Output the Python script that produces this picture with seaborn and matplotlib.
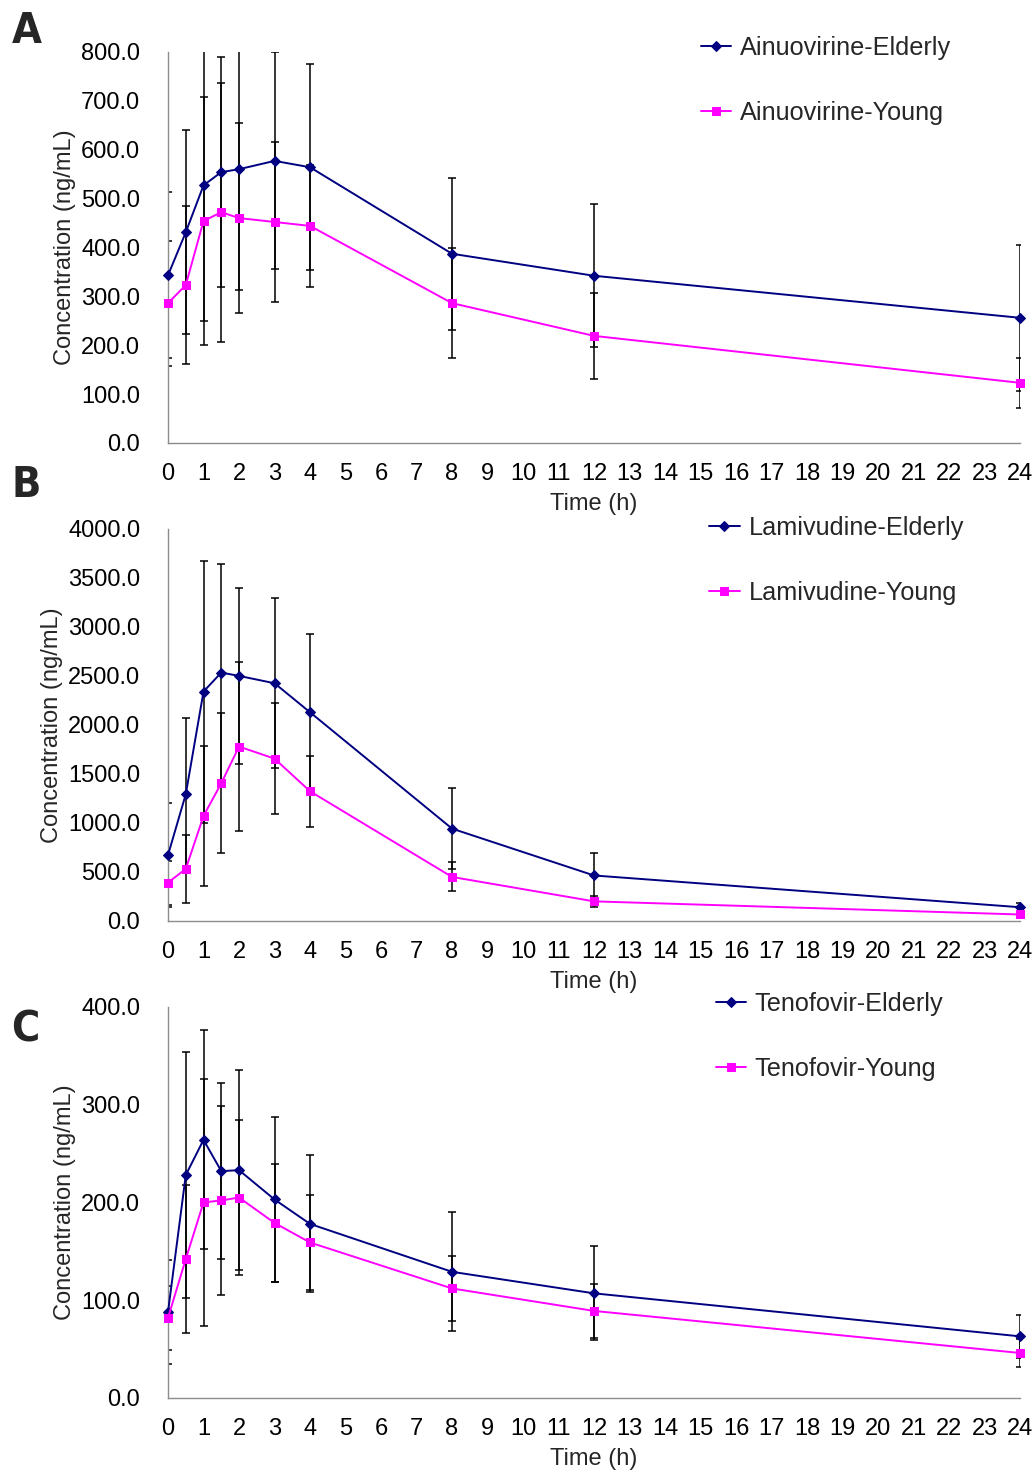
import matplotlib
matplotlib.use('Agg')
import matplotlib.pyplot as plt
import pandas as pd
import seaborn as sns

time = [0, 0.5, 1, 1.5, 2, 3, 4, 8, 12, 24]

ainu_elderly = [343, 431, 527, 554, 560, 577, 564, 387, 342, 256]
ainu_elderly_sd = [170, 209, 278, 235, 247, 222, 211, 156, 146, 149]
ainu_young = [286, 323, 454, 472, 460, 452, 444, 286, 219, 123]
ainu_young_sd = [128, 162, 254, 265, 195, 163, 124, 112, 88, 51]

lami_elderly = [673, 1293, 2340, 2534, 2500, 2425, 2129, 942, 464, 140]
lami_elderly_sd = [534, 775, 1336, 1106, 895, 868, 803, 410, 228, 45]
lami_young = [391, 531, 1071, 1405, 1779, 1656, 1323, 449, 200, 66]
lami_young_sd = [224, 351, 711, 714, 858, 564, 361, 148, 57, 15]

teno_elderly = [88, 228, 264, 232, 233, 203, 178, 129, 107, 63]
teno_elderly_sd = [53, 126, 112, 90, 102, 84, 70, 61, 48, 22]
teno_young = [82, 142, 200, 202, 205, 179, 159, 112, 89, 46]
teno_young_sd = [33, 76, 126, 97, 79, 60, 49, 33, 28, 14]

sns.set_style('white')
plt.rcParams['font.family'] = ['Liberation Sans', 'DejaVu Sans']

navy = '#000080'
pink = '#FF00FF'
gray = '#8c8c8c'

fig = plt.figure(figsize=(10.34, 14.74), dpi=100)

panels = [
    # letter, drug, elderly, e_sd, young, y_sd, ymax, ystep, axes rect, letter y, legend y
    ('A', 'Ainuovirine', ainu_elderly, ainu_elderly_sd, ainu_young, ainu_young_sd,
     800, 100, [0.1625, 0.6995, 0.824, 0.2653], 0.9935, 0.9755),
    ('B', 'Lamivudine', lami_elderly, lami_elderly_sd, lami_young, lami_young_sd,
     4000, 500, [0.1625, 0.3752, 0.824, 0.266], 0.6855, 0.6500),
    ('C', 'Tenofovir', teno_elderly, teno_elderly_sd, teno_young, teno_young_sd,
     400, 100, [0.1625, 0.0516, 0.824, 0.2653], 0.3158, 0.3270),
]
legend_x = [0.678, 0.686, 0.692]

for i, (letter, drug, eld, eld_sd, yng, yng_sd, ymax, ystep, rect, ly, lgy) in enumerate(panels):
    ax = fig.add_axes(rect)
    df = pd.DataFrame({'Time': time, 'Elderly': eld, 'Young': yng})

    ax.errorbar(time, eld, yerr=eld_sd, fmt='none', ecolor='black', elinewidth=1.1,
                capsize=3, capthick=1.1, zorder=2)
    ax.errorbar(time, yng, yerr=yng_sd, fmt='none', ecolor='black', elinewidth=1.1,
                capsize=3, capthick=1.1, zorder=2)

    sns.lineplot(data=df, x='Time', y='Elderly', ax=ax, color=navy, marker='D',
                 markersize=5.5, markeredgecolor=navy, linewidth=1.4,
                 label=drug + '-Elderly', clip_on=False, zorder=3)
    sns.lineplot(data=df, x='Time', y='Young', ax=ax, color=pink, marker='s',
                 markersize=6, markeredgecolor=pink, linewidth=1.4,
                 label=drug + '-Young', clip_on=False, zorder=3)

    ax.set_xlim(0, 24)
    ax.set_ylim(0, ymax)
    ax.set_xticks(range(0, 25))
    ax.set_yticks(range(0, ymax + 1, ystep))
    ax.set_yticklabels(['%.1f' % v for v in range(0, ymax + 1, ystep)])

    sns.despine(ax=ax)
    for s in ['left', 'bottom']:
        ax.spines[s].set_color(gray)
        ax.spines[s].set_linewidth(1.0)
    ax.tick_params(axis='both', direction='in', length=5, color=gray, width=1.0,
                   labelsize=17, labelcolor='black')
    ax.tick_params(axis='y', pad=20)
    ax.tick_params(axis='x', pad=14.5)

    ax.set_xlabel('Time (h)', fontsize=17, labelpad=6)
    ax.set_ylabel('Concentration (ng/mL)', fontsize=17, labelpad=4)

    ax.legend(loc='upper left', bbox_to_anchor=(legend_x[i], lgy),
              bbox_transform=fig.transFigure, frameon=False, fontsize=18.2,
              handlelength=1.2, handletextpad=0.35, labelspacing=1.62,
              borderpad=0, borderaxespad=0)

    fig.text(0.011, ly, letter, fontsize=31, va='top', ha='left', weight='bold',
             family='DejaVu Sans', fontstretch='condensed')

fig.savefig('out.png', dpi=100)
